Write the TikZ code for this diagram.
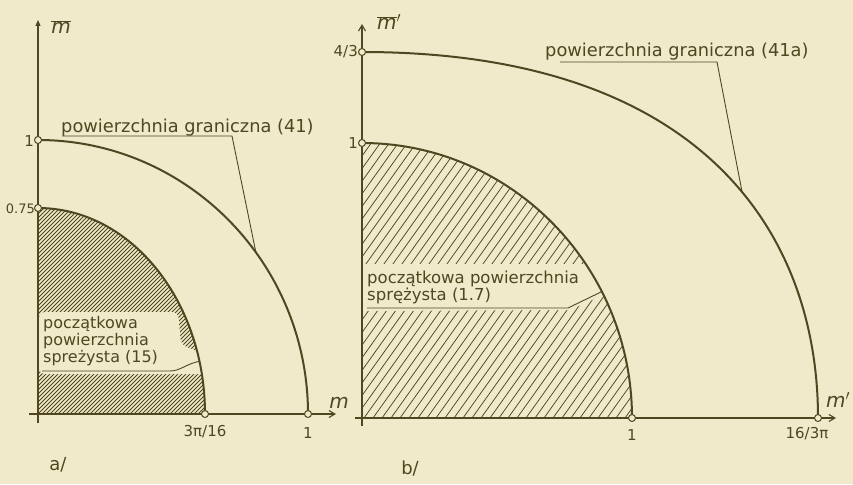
\documentclass[tikz,border=0pt]{standalone}
\usepackage{fontspec}
\setmainfont{DejaVu Sans}
\usetikzlibrary{arrows.meta}
\definecolor{paper}{RGB}{240,233,202}
\definecolor{ink}{RGB}{80,70,32}
\begin{document}
\begin{tikzpicture}[x=1pt,y=-1pt,
  curve/.style={ink,line width=2pt},
  axis/.style={ink,line width=1.1pt,-{Straight Barb[length=6pt,width=7pt]}},
  axisb/.style={ink,line width=1.1pt,-{Triangle[length=6pt,width=5pt]}},
  leader/.style={ink,line width=0.9pt},
  hatch/.style={ink,line width=0.75pt},
  pt/.style={circle,draw=ink,fill=paper,line width=1pt,inner sep=0pt,minimum size=7pt},
  lbl/.style={text=ink,inner sep=0pt,anchor=base west,font=\fontsize{17.8}{20}\selectfont},
  lbls/.style={text=ink,inner sep=0pt,anchor=base west,font=\fontsize{16}{18}\selectfont},
  num/.style={text=ink,inner sep=0pt,font=\fontsize{15}{17}\selectfont},
  axlbl/.style={text=ink,inner sep=0pt,font=\fontsize{20}{22}\selectfont}]
\fill[paper] (0,0) rectangle (853,484);
\useasboundingbox (0,0) rectangle (853,484);

% ---------------- panel a ----------------
\begin{scope}
  \clip (38,414) -- (38,208) .. controls (130,208) and (205,300) .. (205,414) -- cycle;
  \foreach \i in {-184,-180,...,208} \draw[hatch] (\i,420) -- ++(230,-230);
  \fill[paper,rounded corners=6pt] (39,312) -- (178,312) -- (181,345) -- (200,352) -- (212,356) -- (212,374) -- (39,374) -- cycle;
\end{scope}

\coordinate (Y1b) at (38,423);
\coordinate (Y1t) at (38,20);
\coordinate (X1l) at (29,414);
\coordinate (X1r) at (336,414);
\draw[axisb] (Y1b) -- (Y1t);
\draw[axis] (X1l) -- (X1r);

\draw[curve] (38,208) .. controls (130,208) and (205,300) .. (205,414) coordinate[pos=0.84] (L1in);
\draw[curve] (38,140) .. controls (187,140) and (308,263) .. (308,414) coordinate[pos=0.6] (L1out);

\node[pt] (a1) at (38,140) {};
\node[pt] (a2) at (38,208) {};
\node[pt] (a3) at (205,414) {};
\node[pt] (a4) at (308,414) {};

\node[lbl] (ta) at (61,132) {powierzchnia graniczna (41)};
\coordinate (ta1) at (62,136);
\coordinate (ta2) at (232,136);
\draw[leader] (ta1) -- (ta2) -- (L1out);

\node[lbls] (ia1) at (43,328) {początkowa};
\node[lbls] (ia2) at (43,345) {powierzchnia};
\node[lbls] (ia3) at (43,362) {spreżysta (15)};
\coordinate (ua1) at (42,371);
\coordinate (ua2) at (170,371);
\draw[leader] (ua1) -- (ua2) .. controls (180,371) and (186,364) .. (L1in);

\node[axlbl] (ym) at (61,27) {$\overline{\hbox{\itshape m}}$};
\node[axlbl] (xm) at (339,403) {\itshape m};
\node[num,anchor=east] (n1) at (34,141) {1};
\node[num,anchor=east,font=\fontsize{13}{15}\selectfont] (n2) at (35,209) {0.75};
\node[num] (n3) at (205,432) {3π/16};
\node[num] (n4) at (308,433) {1};
\node[text=ink,font=\fontsize{18}{20}\selectfont] (la) at (58,465) {a/};

% ---------------- panel b ----------------
\begin{scope}
  \clip (362,418) -- (362,143) .. controls (511,143) and (632,266) .. (632,418) -- cycle;
  \foreach \i in {152,161,...,640} \draw[hatch] (\i,425) -- ++(212,-297);
  \fill[paper] (362,264) -- (592,264) -- (603,295) -- (570,310) -- (362,311) -- cycle;
\end{scope}

\coordinate (Y2b) at (362,426);
\coordinate (Y2t) at (362,24);
\coordinate (X2l) at (355,418);
\coordinate (X2r) at (836,418);
\draw[axis] (Y2b) -- (Y2t);
\draw[axis] (X2l) -- (X2r);

\draw[curve] (362,143) .. controls (511,143) and (632,266) .. (632,418) coordinate[pos=0.7] (L2in);
\draw[curve] (362,52) .. controls (704,52) and (818,235) .. (818,418) coordinate[pos=0.56] (L2out);

\node[pt] (b1) at (362,52) {};
\node[pt] (b2) at (362,143) {};
\node[pt] (b3) at (632,418) {};
\node[pt] (b4) at (818,418) {};

\node[lbl] (tb) at (545,57) {powierzchnia graniczna (41a)};
\coordinate (tb1) at (560,62);
\coordinate (tb2) at (717,62);
\draw[leader] (tb1) -- (tb2) -- (L2out);

\node[lbls,font=\fontsize{16.5}{18}\selectfont] (ib1) at (367,283) {początkowa powierzchnia};
\node[lbls,font=\fontsize{16.5}{18}\selectfont] (ib2) at (367,300) {sprężysta (1.7)};
\coordinate (ub1) at (367,308);
\coordinate (ub2) at (568,308);
\draw[leader] (ub1) -- (ub2) -- (L2in);

\node[axlbl] (ym2) at (389,22) {$\overline{\hbox{\itshape m}}^{\prime}$};
\node[axlbl] (xm2) at (838,400) {\itshape m$'$};
\node[num,anchor=east] (c1) at (358,52) {4/3};
\node[num,anchor=east] (c2) at (358,143) {1};
\node[num] (c3) at (632,435) {1};
\node[num] (c4) at (807,434) {16/3π};
\node[text=ink,font=\fontsize{18}{20}\selectfont] (lb) at (410,468) {b/};
\end{tikzpicture}
\end{document}
